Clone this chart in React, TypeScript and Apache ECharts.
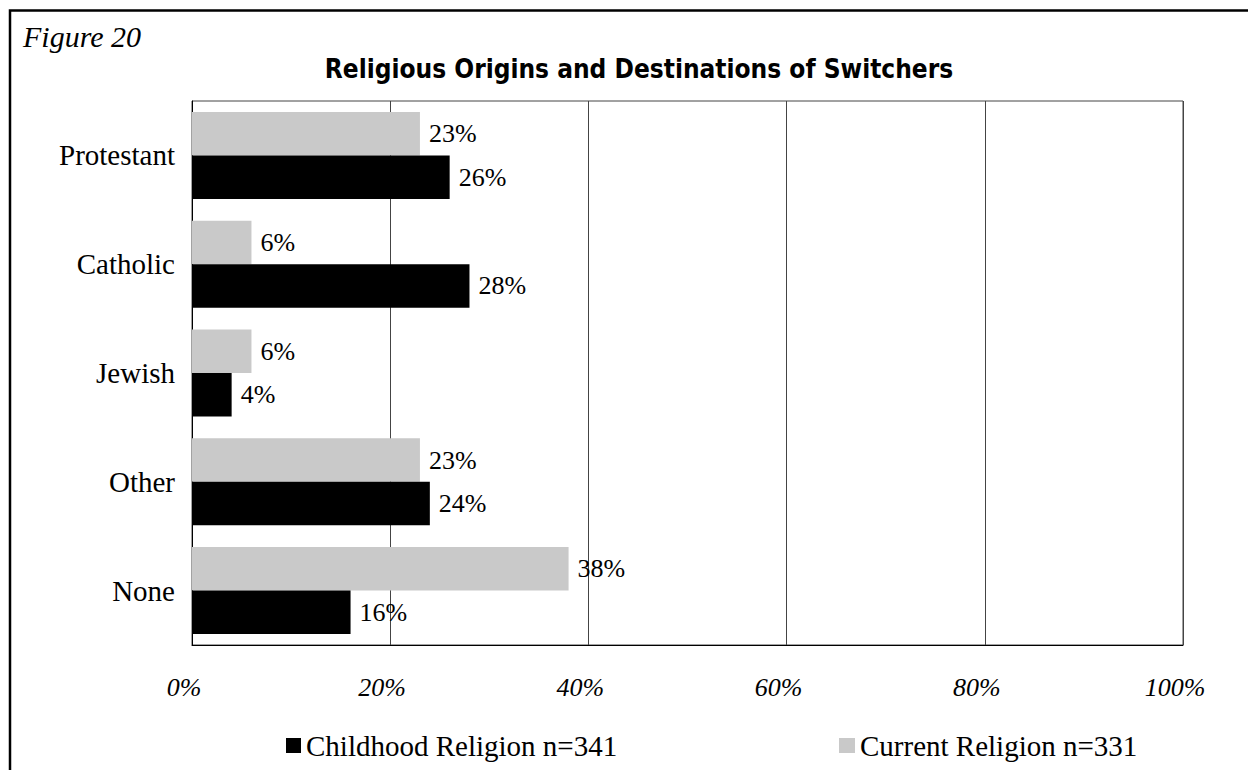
import React, { useEffect, useRef } from "react";
import * as echarts from "echarts";

// Religious groups, top to bottom
const categories = ["Protestant", "Catholic", "Jewish", "Other", "None"];
// Share of switchers (%) by religion they were raised in
const childhoodValues = [26, 28, 4, 24, 16];
// Share of switchers (%) by religion they hold now
const currentValues = [23, 6, 6, 23, 38];
const childhoodName = "Childhood Religion n=341";
const currentName = "Current Religion n=331";
const xTicks = { min: 0, max: 100, interval: 20 };

const SERIF = "'Liberation Serif', 'Times New Roman', serif";
const TITLE_FONT = "'Liberation Sans Narrow', 'DejaVu Sans Condensed', 'Arial Narrow', sans-serif";

export default function App() {
  const ref = useRef<HTMLDivElement>(null);

  useEffect(() => {
    if (!ref.current) return;
    const chart = echarts.init(ref.current, undefined, { renderer: "svg" });

    const labelStyle = {
      show: true,
      position: "right" as const,
      distance: 9,
      formatter: "{c}%",
      fontFamily: SERIF,
      fontSize: 26,
      color: "#000",
    };

    chart.setOption({
      animation: false,
      backgroundColor: "#fff",
      graphic: [
        {
          type: "polyline",
          shape: { points: [[10, 770], [10, 10.5], [1250, 10.5]] },
          style: { stroke: "#000", lineWidth: 2.5, fill: "none" },
          silent: true,
        },
        {
          type: "text",
          x: 23,
          y: 36,
          style: {
            text: "Figure 20",
            fontFamily: SERIF,
            fontStyle: "italic",
            fontSize: 30,
            fill: "#000",
            textVerticalAlign: "middle",
          },
        },
        {
          type: "text",
          x: 639,
          y: 69,
          style: {
            text: "Religious Origins and Destinations of Switchers",
            fontFamily: TITLE_FONT,
            fontWeight: "bold",
            fontSize: 26,
            fill: "#000",
            textAlign: "center",
            textVerticalAlign: "middle",
          },
        },
      ],
      grid: {
        left: 192,
        right: 65,
        top: 101,
        bottom: 125,
        containLabel: false,
        show: true,
        borderColor: "#444",
        borderWidth: 1,
      },
      legend: [
        {
          data: [childhoodName],
          left: 286,
          top: 731,
          padding: 0,
          icon: "rect",
          itemWidth: 15,
          itemHeight: 15,
          itemGap: 4,
          textStyle: { fontFamily: SERIF, fontSize: 29, color: "#000" },
        },
        {
          data: [currentName],
          left: 839,
          top: 731,
          padding: 0,
          icon: "rect",
          itemWidth: 16,
          itemHeight: 15,
          itemGap: 4,
          textStyle: { fontFamily: SERIF, fontSize: 29, color: "#000" },
        },
      ],
      xAxis: {
        type: "value",
        min: xTicks.min,
        max: xTicks.max,
        interval: xTicks.interval,
        axisLine: { show: true, lineStyle: { color: "#000", width: 1 } },
        axisTick: { show: false },
        splitLine: { show: true, lineStyle: { color: "#444", width: 1 } },
        axisLabel: {
          formatter: "{value}%",
          fontFamily: SERIF,
          fontStyle: "italic",
          fontSize: 26,
          color: "#000",
          margin: 29,
          padding: [0, 16, 0, 0],
        },
      },
      yAxis: {
        type: "category",
        data: categories,
        inverse: true,
        axisLine: { show: true, lineStyle: { color: "#000", width: 1 } },
        axisTick: { show: false },
        axisLabel: {
          fontFamily: SERIF,
          fontSize: 29,
          color: "#000",
          margin: 17,
        },
      },
      series: [
        {
          name: currentName,
          type: "bar",
          data: currentValues,
          barGap: "0%",
          barCategoryGap: "20%",
          itemStyle: { color: "#c9c9c9" },
          label: labelStyle,
        },
        {
          name: childhoodName,
          type: "bar",
          data: childhoodValues,
          barGap: "0%",
          barCategoryGap: "20%",
          itemStyle: { color: "#000" },
          label: labelStyle,
        },
      ],
    });

    return () => chart.dispose();
  }, []);

  return (
    <div
      ref={ref}
      style={{ position: "absolute", left: 0, top: 0, width: 1248, height: 770 }}
    />
  );
}
